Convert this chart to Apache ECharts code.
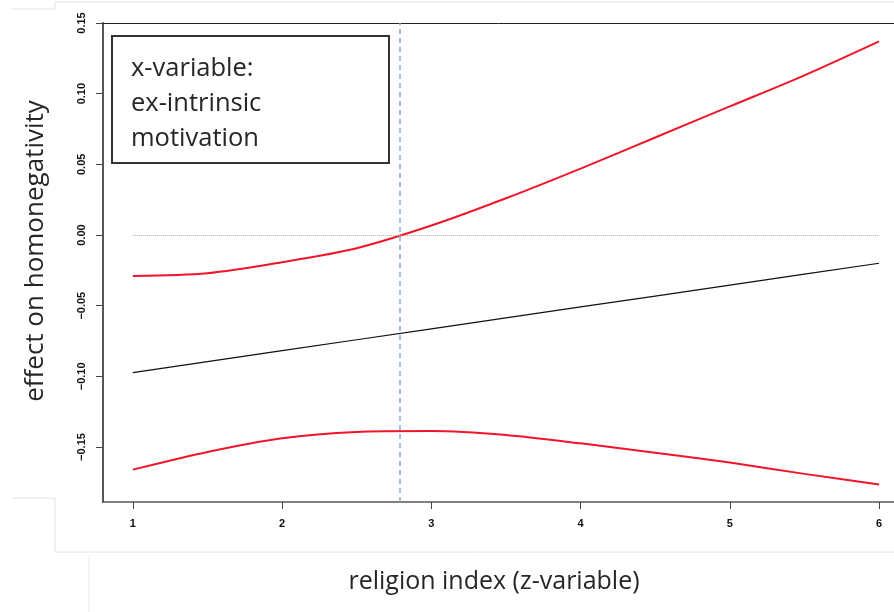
<!DOCTYPE html>
<html>
<head>
<meta charset="utf-8">
<script src="https://cdn.jsdelivr.net/npm/echarts@6/dist/echarts.min.js"></script>
<style>html,body{margin:0;padding:0;background:#fff;}#c{width:894px;height:612px;}</style>
</head>
<body>
<div id="c"></div>
<script>
var xs = [1, 1.5, 2, 2.5, 3, 3.5, 4, 4.5, 5, 5.5, 6];
var upperCI = [-0.029, -0.027, -0.0192, -0.0093, 0.0067, 0.026, 0.047, 0.069, 0.091, 0.113, 0.137];
var lowerCI = [-0.166, -0.1535, -0.1438, -0.1393, -0.1387, -0.1415, -0.1474, -0.154, -0.161, -0.169, -0.1765];
var estimate = [-0.0973, -0.0896, -0.0818, -0.0741, -0.0664, -0.0586, -0.0509, -0.0432, -0.0355, -0.0277, -0.020];
var xTicks = [1, 2, 3, 4, 5, 6];
var yTicks = [-0.15, -0.10, -0.05, 0.00, 0.05, 0.10, 0.15];
var zeroCross = 2.79;
var legendLines = ['x-variable:', 'ex-intrinsic', 'motivation'];
var xTitle = 'religion index (z-variable)';
var yTitle = 'effect on homonegativity';

function pairs(a, b) { return a.map(function (v, i) { return [v, b[i]]; }); }

var chart = echarts.init(document.getElementById('c'), null, {renderer: 'canvas'});
var tickFont = {fontFamily: 'Liberation Sans', fontWeight: 'bold', fontSize: 11, color: '#111'};
var textFont = 'Open Sans';
chart.setOption({
  animation: false,
  backgroundColor: '#fff',
  grid: {left: 103, top: 23, bottom: 110, right: 0, show: false},
  xAxis: [{
    type: 'value', min: 0.8, max: 6.1,
    axisLine: {show: true, onZero: false, lineStyle: {color: '#555', width: 1.5}},
    axisTick: {show: true, length: 7, customValues: xTicks, lineStyle: {color: '#444', width: 1}},
    axisLabel: Object.assign({margin: 16, customValues: xTicks, formatter: function (v) { return String(v); }}, tickFont),
    splitLine: {show: false}
  }, {
    type: 'value', position: 'top', min: 0.8, max: 6.1,
    axisLine: {show: true, onZero: false, lineStyle: {color: '#222', width: 1}},
    axisTick: {show: false}, axisLabel: {show: false}, splitLine: {show: false}
  }],
  yAxis: {
    type: 'value', min: -0.1889, max: 0.15,
    axisLine: {show: true, onZero: false, lineStyle: {color: '#555', width: 2}},
    axisTick: {show: true, length: 7, customValues: yTicks, lineStyle: {color: '#444', width: 1}},
    axisLabel: Object.assign({margin: 16, rotate: 90, customValues: yTicks, formatter: function (v) { return v.toFixed(2).replace('-', '\u2212'); }}, tickFont),
    splitLine: {show: false}
  },
  series: [
    {
      type: 'line', data: pairs(xs, estimate), showSymbol: false, smooth: false,
      lineStyle: {color: '#111', width: 1.2}, z: 3,
      markLine: {
        silent: true, symbol: 'none', label: {show: false},
        lineStyle: {color: '#aaa', type: 'dotted', width: 1},
        data: [[{coord: [1, 0]}, {coord: [6, 0]}]]
      }
    },
    {
      type: 'line', data: pairs(xs, upperCI), showSymbol: false, smooth: 0.3, lineStyle: {color: '#f0162a', width: 2}, z: 4,
      markLine: {
        silent: true, symbol: 'none', label: {show: false},
        lineStyle: {color: '#8ca5d6', type: [5, 4], width: 1.5},
        data: [{xAxis: zeroCross}]
      }
    },
    {type: 'line', data: pairs(xs, lowerCI), showSymbol: false, smooth: 0.25, lineStyle: {color: '#f0162a', width: 2}, z: 4}
  ],
  graphic: [
    {type: 'polyline', silent: true, shape: {points: [[11, 9], [55, 9], [55, 2], [894, 2]]}, style: {stroke: '#e2e2e2', lineWidth: 1, fill: null}},
    {type: 'polyline', silent: true, shape: {points: [[11, 498], [55, 498], [55, 552], [894, 552]]}, style: {stroke: '#e2e2e2', lineWidth: 1, fill: null}},
    {type: 'line', silent: true, shape: {x1: 89, y1: 555, x2: 89, y2: 612}, style: {stroke: '#ececec', lineWidth: 1}},
    {type: 'rect', shape: {x: 112, y: 36, width: 277, height: 127}, style: {fill: '#fff', stroke: '#333', lineWidth: 2}, z: 10},
    {type: 'text', left: 131, top: 51, z: 11, style: {text: legendLines.join('\n'), fontFamily: textFont, fontSize: 25.5, lineHeight: 35, fill: '#262626'}},
    {type: 'text', x: 494, y: 582, style: {text: xTitle, fontFamily: textFont, fontSize: 25, fill: '#262626', align: 'center', verticalAlign: 'middle'}},
    {type: 'text', x: 36, y: 251, rotation: Math.PI / 2, style: {text: yTitle, fontFamily: textFont, fontSize: 26, fill: '#262626', align: 'center', verticalAlign: 'middle'}}
  ]
});
</script>
</body>
</html>
